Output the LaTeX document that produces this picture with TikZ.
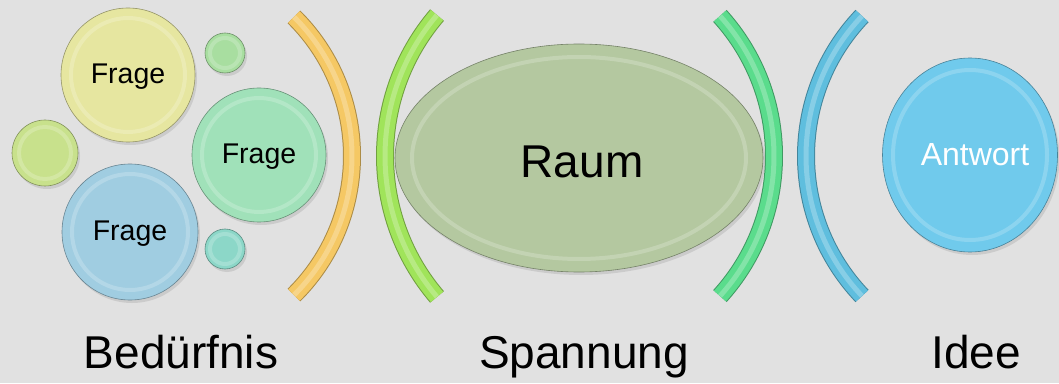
\documentclass[tikz,border=0pt]{standalone}
\usepackage{fontspec}
\setmainfont{Liberation Sans}
\usetikzlibrary{shapes.geometric,shadows}
\definecolor{bg}{RGB}{225,225,225}
\definecolor{cyellow}{RGB}{230,230,160}
\definecolor{csmallgreen}{RGB}{168,222,160}
\definecolor{clime}{RGB}{200,225,140}
\definecolor{cmint}{RGB}{160,225,185}
\definecolor{cblue}{RGB}{160,205,225}
\definecolor{cteal}{RGB}{140,215,200}
\definecolor{corange}{RGB}{245,200,100}
\definecolor{carclime}{RGB}{160,228,90}
\definecolor{carcgreen}{RGB}{90,220,140}
\definecolor{carcblue}{RGB}{95,190,222}
\definecolor{craum}{RGB}{180,200,160}
\definecolor{cantwort}{RGB}{112,202,236}
\newcommand\bandarc[6]{%
  \draw[line width=18pt, #6!70!black] ([shift={(#4:#3)}]#1,#2) arc[start angle=#4, end angle=#5, radius=#3];
  \draw[line width=16pt, #6] ([shift={(#4:#3)}]#1,#2) arc[start angle=#4, end angle=#5, radius=#3];
  \draw[line width=5pt, white, opacity=.25] ([shift={(#4:#3)}]#1,#2) arc[start angle=#4, end angle=#5, radius=#3];
}
\newcommand\rimring[4]{%
  \draw[white, opacity=.2, line width=4pt] (#1,#2) ellipse [x radius=#3, y radius=#4];
}
\begin{document}
\begin{tikzpicture}[x=1pt,y=1pt,
  bubble/.style={ellipse, fill=#1, draw=#1!65!black, line width=0.6pt, inner sep=0pt,
    drop shadow={opacity=0.22, shadow xshift=2pt, shadow yshift=-3pt}},
  qtext/.style={font=\fontsize{28.5}{32}\selectfont, text=black},
  caption/.style={font=\fontsize{46}{52}\selectfont, text=black, anchor=base}]
\fill[bg] (0,0) rectangle (1059,383);
\useasboundingbox (0,0) rectangle (1059,383);

% small bubbles
\node[bubble=csmallgreen, minimum width=40pt, minimum height=40pt] (s1) at (225,330) {};
\rimring{225}{330}{15}{15}
\node[bubble=clime, minimum width=66pt, minimum height=66pt] (s2) at (45,230) {};
\rimring{45}{230}{26}{26}
\node[bubble=cteal, minimum width=40pt, minimum height=40pt] (s3) at (225,134) {};
\rimring{225}{134}{15}{15}

% question bubbles
\node[bubble=cyellow, minimum width=134pt, minimum height=134pt] (q1) at (128,308) {};
\rimring{128}{308}{57}{57}
\node[qtext] at ([yshift=-2pt]q1.center) {Frage};
\node[bubble=cmint, minimum width=134pt, minimum height=134pt] (q2) at (259,228) {};
\rimring{259}{228}{57}{57}
\node[qtext] at ([yshift=-2pt]q2.center) {Frage};
\node[bubble=cblue, minimum width=136pt, minimum height=136pt] (q3) at (130,151) {};
\rimring{130}{151}{58}{58}
\node[qtext] at ([yshift=-2pt]q3.center) {Frage};

% arcs
\bandarc{156.4}{227}{195.6}{-45.3}{45.3}{corange}
\bandarc{602}{227}{217}{139.5}{220.5}{carclime}
\bandarc{565.5}{227}{208.5}{-42.2}{42.2}{carcgreen}
\bandarc{1009}{227}{203}{136.4}{223.6}{carcblue}

% Raum
\node[bubble=craum, minimum width=368pt, minimum height=228pt] (raum) at (579,225) {};
\rimring{579}{225}{167}{101}
\node[font=\fontsize{46}{52}\selectfont] at (582,221) {Raum};

% Antwort
\node[bubble=cantwort, minimum width=175pt, minimum height=194pt] (antwort) at (970,228) {};
\rimring{970}{228}{77}{85}
\node[font=\fontsize{32}{36}\selectfont, text=white] at (975,228) {Antwort};

% captions
\node[caption] (c1) at (181,15) {Bedürfnis};
\node[caption] (c2) at (584,15) {Spannung};
\node[caption] (c3) at (976,15) {Idee};
\end{tikzpicture}
\end{document}
